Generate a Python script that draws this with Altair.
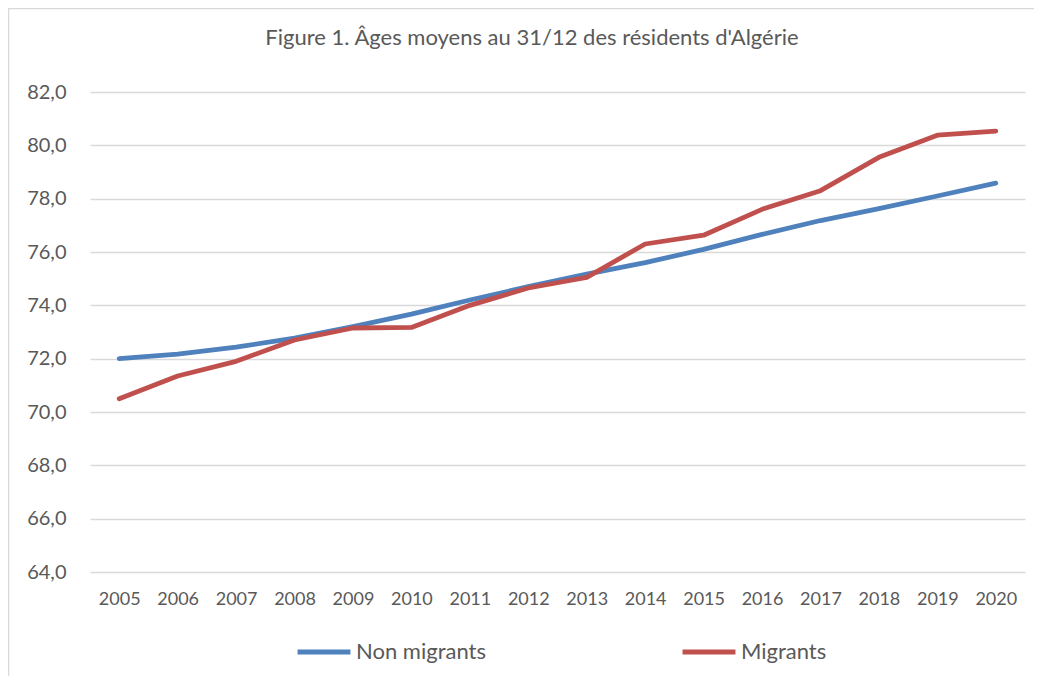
import altair as alt
import pandas as pd

years = [str(y) for y in range(2005, 2021)]
non_migrants = [72.0, 72.17, 72.43, 72.77, 73.2, 73.67, 74.2, 74.7, 75.17, 75.6, 76.1, 76.66, 77.18, 77.63, 78.1, 78.58]
migrants = [70.5, 71.35, 71.9, 72.7, 73.15, 73.17, 74.0, 74.65, 75.05, 76.3, 76.63, 77.6, 78.3, 79.55, 80.38, 80.53]
series_names = ["Non migrants", "Migrants"]
series_colors = ["#4F81BD", "#C0504D"]
y_ticks = list(range(64, 83, 2))
title_text = "Figure 1. Âges moyens au 31/12 des résidents d'Algérie"

df = pd.DataFrame({
    "year": years * 2,
    "value": non_migrants + migrants,
    "series": [series_names[0]] * len(years) + [series_names[1]] * len(years),
})

FONT = "Lato"
TXT = "#595959"
W, H = 935, 480

lines = alt.Chart(df).mark_line(strokeWidth=4.8, strokeCap="round", strokeJoin="round").encode(
    x=alt.X("year:O", title=None,
            axis=alt.Axis(labelAngle=0, domain=False, ticks=False, labelPadding=18,
                          labelFontSize=18, labelColor=TXT, labelFont=FONT)),
    y=alt.Y("value:Q", title=None, scale=alt.Scale(domain=[64, 82], nice=False, zero=False),
            axis=alt.Axis(values=y_ticks, domain=False, ticks=False, labelPadding=24,
                          labelFontSize=20, labelColor=TXT, labelFont=FONT,
                          gridColor="#D9D9D9", gridWidth=1.3,
                          labelExpr="replace(format(datum.value, '.1f'), '.', ',')")),
    color=alt.Color("series:N", sort=series_names,
                    scale=alt.Scale(domain=series_names, range=series_colors),
                    legend=alt.Legend(title=None, orient="none", direction="horizontal",
                                      legendX=205, legendY=531, symbolType="stroke",
                                      symbolStrokeWidth=4.8, symbolSize=2800,
                                      labelFontSize=22, labelColor=TXT, labelFont=FONT,
                                      columnPadding=186, labelOffset=3)),
)

border = alt.Chart(pd.DataFrame({"a": [0]})).mark_rect(fill=None, stroke="#D9D9D9", strokeWidth=1.5).encode(
    x=alt.value(-81.5), x2=alt.value(W + 40), y=alt.value(-83.5), y2=alt.value(H + 140)
)

title = alt.Chart(pd.DataFrame({"t": [title_text]})).mark_text(
    font=FONT, fontSize=22, color=TXT, align="center", baseline="middle"
).encode(text="t:N", x=alt.value(442), y=alt.value(-54))

chart = alt.layer(border, lines, title).properties(
    width=W, height=H,
    autosize=alt.AutoSizeParams(type="none"),
    padding={"left": 82, "top": 84, "right": 9, "bottom": 104},
).configure_view(stroke=None)

chart.save("out.html", embed_options={"renderer": "svg", "actions": False})
